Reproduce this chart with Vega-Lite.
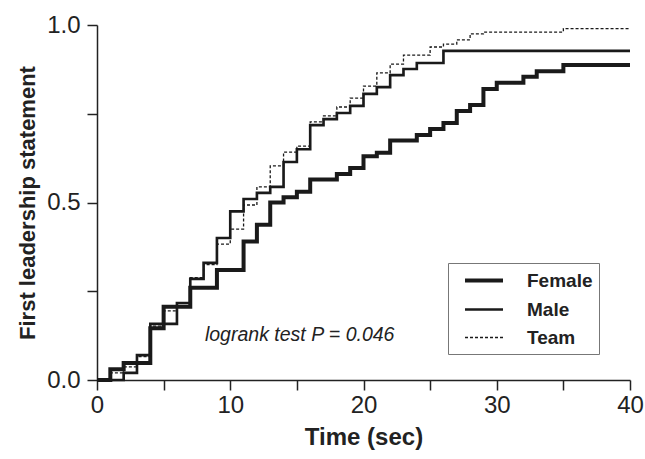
{
  "$schema": "https://vega.github.io/schema/vega-lite/v6.json",
  "width": 533,
  "height": 355,
  "autosize": {"type": "none"},
  "padding": {"left": 97, "top": 25, "right": 15, "bottom": 79},
  "background": "white",
  "config": {
    "view": {"stroke": null},
    "font": "Liberation Sans",
    "axis": {"grid": false, "domainColor": "#222", "tickColor": "#222", "domainWidth": 1.5, "tickWidth": 1.5, "tickSize": 10, "labelColor": "#222", "titleColor": "#222", "labelFontSize": 24, "titleFontSize": 22, "titleFontWeight": "bold", "labelFont": "Liberation Sans", "titleFont": "Liberation Sans"},
    "legend": {"labelFont": "Liberation Sans", "labelFontSize": 19, "labelFontWeight": "bold", "labelColor": "#222", "symbolType": "M-2,0H2", "symbolSize": 361, "symbolStrokeColor": "#1a1a1a", "symbolFillColor": "transparent", "strokeColor": "#777", "padding": 6, "rowPadding": 7.5, "labelOffset": 31.5, "symbolOffset": 18.5}
  },
  "datasets": {
    "km": [
      {"series": "Female", "t": 0, "v": 0},
      {"series": "Female", "t": 1, "v": 0.03},
      {"series": "Female", "t": 2, "v": 0.048},
      {"series": "Female", "t": 4, "v": 0.146},
      {"series": "Female", "t": 5, "v": 0.206},
      {"series": "Female", "t": 7, "v": 0.26},
      {"series": "Female", "t": 9, "v": 0.31},
      {"series": "Female", "t": 11, "v": 0.39},
      {"series": "Female", "t": 12, "v": 0.437},
      {"series": "Female", "t": 13, "v": 0.5},
      {"series": "Female", "t": 14, "v": 0.515},
      {"series": "Female", "t": 15, "v": 0.53},
      {"series": "Female", "t": 16, "v": 0.565},
      {"series": "Female", "t": 18, "v": 0.58},
      {"series": "Female", "t": 19, "v": 0.597},
      {"series": "Female", "t": 20, "v": 0.63},
      {"series": "Female", "t": 21, "v": 0.64},
      {"series": "Female", "t": 22, "v": 0.675},
      {"series": "Female", "t": 24, "v": 0.69},
      {"series": "Female", "t": 25, "v": 0.707},
      {"series": "Female", "t": 26, "v": 0.724},
      {"series": "Female", "t": 27, "v": 0.758},
      {"series": "Female", "t": 28, "v": 0.775},
      {"series": "Female", "t": 29, "v": 0.82},
      {"series": "Female", "t": 30, "v": 0.837},
      {"series": "Female", "t": 32, "v": 0.854},
      {"series": "Female", "t": 33, "v": 0.87},
      {"series": "Female", "t": 35, "v": 0.887},
      {"series": "Female", "t": 40, "v": 0.887},
      {"series": "Male", "t": 0, "v": 0},
      {"series": "Male", "t": 2, "v": 0.02},
      {"series": "Male", "t": 3, "v": 0.07},
      {"series": "Male", "t": 4, "v": 0.158},
      {"series": "Male", "t": 6, "v": 0.217},
      {"series": "Male", "t": 7, "v": 0.285},
      {"series": "Male", "t": 8, "v": 0.33},
      {"series": "Male", "t": 9, "v": 0.4},
      {"series": "Male", "t": 10, "v": 0.475},
      {"series": "Male", "t": 11, "v": 0.51},
      {"series": "Male", "t": 12, "v": 0.527},
      {"series": "Male", "t": 13, "v": 0.544},
      {"series": "Male", "t": 14, "v": 0.614},
      {"series": "Male", "t": 15, "v": 0.65},
      {"series": "Male", "t": 16, "v": 0.718},
      {"series": "Male", "t": 17, "v": 0.735},
      {"series": "Male", "t": 18, "v": 0.752},
      {"series": "Male", "t": 19, "v": 0.772},
      {"series": "Male", "t": 20, "v": 0.806},
      {"series": "Male", "t": 21, "v": 0.825},
      {"series": "Male", "t": 22, "v": 0.859},
      {"series": "Male", "t": 23, "v": 0.876},
      {"series": "Male", "t": 24, "v": 0.893},
      {"series": "Male", "t": 26, "v": 0.927},
      {"series": "Male", "t": 40, "v": 0.927},
      {"series": "Team", "t": 0, "v": 0},
      {"series": "Team", "t": 1, "v": 0.02},
      {"series": "Team", "t": 2, "v": 0.037},
      {"series": "Team", "t": 3, "v": 0.066},
      {"series": "Team", "t": 4, "v": 0.152},
      {"series": "Team", "t": 5, "v": 0.195},
      {"series": "Team", "t": 6, "v": 0.217},
      {"series": "Team", "t": 7, "v": 0.288},
      {"series": "Team", "t": 8, "v": 0.325},
      {"series": "Team", "t": 9, "v": 0.383},
      {"series": "Team", "t": 10, "v": 0.425},
      {"series": "Team", "t": 11, "v": 0.493},
      {"series": "Team", "t": 12, "v": 0.544},
      {"series": "Team", "t": 13, "v": 0.603},
      {"series": "Team", "t": 14, "v": 0.642},
      {"series": "Team", "t": 15, "v": 0.659},
      {"series": "Team", "t": 16, "v": 0.727},
      {"series": "Team", "t": 17, "v": 0.744},
      {"series": "Team", "t": 18, "v": 0.769},
      {"series": "Team", "t": 19, "v": 0.794},
      {"series": "Team", "t": 20, "v": 0.828},
      {"series": "Team", "t": 21, "v": 0.865},
      {"series": "Team", "t": 22, "v": 0.89},
      {"series": "Team", "t": 23, "v": 0.915},
      {"series": "Team", "t": 25, "v": 0.938},
      {"series": "Team", "t": 26, "v": 0.946},
      {"series": "Team", "t": 27, "v": 0.958},
      {"series": "Team", "t": 28, "v": 0.975},
      {"series": "Team", "t": 29, "v": 0.98},
      {"series": "Team", "t": 35, "v": 0.99},
      {"series": "Team", "t": 40, "v": 0.99}
    ]
  },
  "layer": [
    {
      "data": {"name": "km"},
      "mark": {"type": "line", "interpolate": "step-after", "color": "#1a1a1a", "strokeCap": "butt", "strokeJoin": "miter"},
      "encoding": {
        "x": {"field": "t", "type": "quantitative", "scale": {"domain": [0, 40], "nice": false}, "axis": {"title": "Time (sec)", "titleFontSize": 24, "values": [0, 5, 10, 15, 20, 25, 30, 35, 40], "labelExpr": "datum.value % 10 === 0 ? datum.label : ''", "labelPadding": 3, "titlePadding": 8, "labelFlush": false}},
        "y": {"field": "v", "type": "quantitative", "scale": {"domain": [0, 1], "nice": false}, "axis": {"title": "First leadership statement", "values": [0, 0.25, 0.5, 0.75, 1], "labelExpr": "datum.value % 0.5 === 0 ? format(datum.value, '.1f') : ''", "labelPadding": 7, "titlePadding": 7, "labelFlush": false}},
        "strokeDash": {"field": "series", "type": "nominal", "scale": {"domain": ["Female", "Male", "Team"], "range": [[1, 0], [1, 0], [3, 2]]}, "legend": {"title": null, "orient": "none", "legendX": 351, "legendY": 238}},
        "strokeWidth": {"field": "series", "type": "nominal", "scale": {"domain": ["Female", "Male", "Team"], "range": [4, 1.3, 1]}, "legend": {"title": null, "orient": "none", "legendX": 351, "legendY": 238}}
      }
    },
    {
      "data": {"values": [{}]},
      "mark": {"type": "text", "text": "logrank test P = 0.046", "font": "Liberation Sans", "fontStyle": "italic", "fontSize": 19.5, "align": "left", "baseline": "middle", "color": "#222"},
      "encoding": {"x": {"datum": 8.1}, "y": {"datum": 0.127}}
    }
  ]
}
